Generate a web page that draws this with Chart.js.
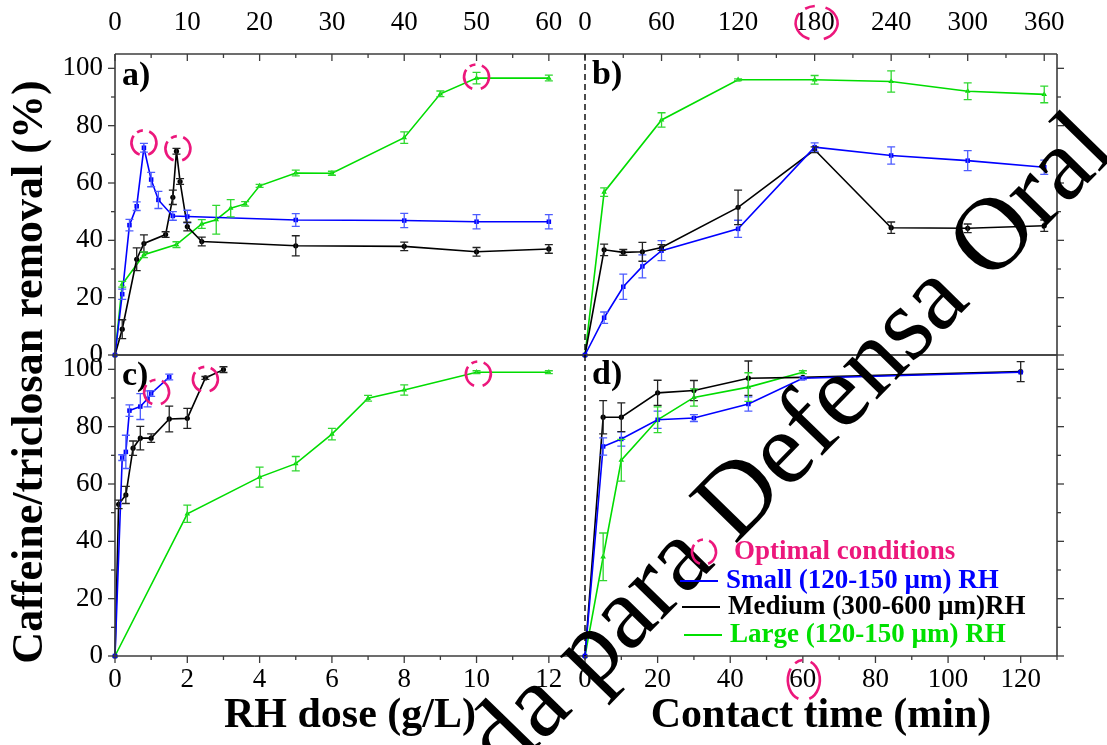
<!DOCTYPE html>
<html>
<head>
<meta charset="utf-8">
<script src="https://cdn.jsdelivr.net/npm/chart.js@4.4.1/dist/chart.umd.min.js"></script>
<style>
  html, body { margin: 0; padding: 0; background: #fff; }
  #wrap { position: relative; width: 1107px; height: 745px; overflow: hidden; }
  #wrap canvas { position: absolute; left: 0; top: 0; }
</style>
</head>
<body>
<div id="wrap">
  <canvas id="panelA" width="1107" height="745"></canvas>
  <canvas id="panelB" width="1107" height="745"></canvas>
  <canvas id="panelC" width="1107" height="745"></canvas>
  <canvas id="panelD" width="1107" height="745"></canvas>
</div>
<script>
// ---- tick labels ----
const yTickLabels = [0, 20, 40, 60, 80, 100];
const doseTopTicks = [0, 10, 20, 30, 40, 50, 60];
const doseTicks = [0, 2, 4, 6, 8, 10, 12];
const timeTopTicks = [0, 60, 120, 180, 240, 300, 360];
const timeTicks = [0, 20, 40, 60, 80, 100, 120];

// ---- a) caffeine vs RH dose (top scale) ----
const aSmallX = [0, 1, 2, 3, 4, 5, 6, 8, 10, 25, 40, 50, 60];
const aSmallY = [0, 21.2, 45.3, 51.9, 72.3, 61.2, 54.1, 48.5, 48.3, 47.1, 46.9, 46.5, 46.5];
const aSmallErr = [0, 1.8, 2, 1.5, 1.5, 2.5, 3, 1.5, 2.2, 2.2, 2.5, 2.5, 2.5];
const aMediumX = [0, 1, 3, 4, 7, 8, 8.5, 9, 10, 12, 25, 40, 50, 60];
const aMediumY = [0, 9, 33.4, 38.9, 42, 55, 71.1, 60.5, 44.8, 39.6, 38.1, 37.9, 36, 37];
const aMediumErr = [0, 3.3, 4, 3, 1, 2.5, 1, 1, 1.5, 1.5, 3.5, 1.5, 1.5, 1.5];
const aLargeX = [0, 1, 4, 8.5, 12, 14, 16, 18, 20, 25, 30, 40, 45, 50, 60];
const aLargeY = [0, 24.7, 35, 38.5, 45.7, 47.2, 51.2, 52.7, 59, 63.5, 63.4, 75.8, 91.1, 96.6, 96.6];
const aLargeErr = [0, 1, 1, 1, 1.5, 5, 3, 0.8, 0.5, 1, 0.7, 2, 1, 2, 1];
const aOptX = [4, 8.7, 50];
const aOptY = [74, 72, 97];

// ---- b) caffeine vs contact time (top scale) ----
const bSmallX = [0, 15, 30, 45, 60, 120, 180, 240, 300, 360];
const bSmallY = [0, 13, 23.8, 30.9, 36.4, 44, 72.5, 69.6, 67.8, 65.5];
const bSmallErr = [0, 2, 4.4, 4, 3.5, 3, 1.5, 3, 3.5, 2.5];
const bMediumX = [0, 15, 30, 45, 60, 120, 180, 240, 300, 360];
const bMediumY = [0, 36.7, 35.8, 36, 37.5, 51.5, 71.6, 44.4, 44.2, 45.1];
const bMediumErr = [0, 2, 1, 3.3, 1, 6, 1, 2, 1.5, 2];
const bLargeX = [0, 15, 60, 120, 180, 240, 300, 360];
const bLargeY = [0, 56.8, 82, 96, 96, 95.4, 92, 90.9];
const bLargeErr = [0, 1.5, 2.5, 0.3, 1.5, 3.7, 2.9, 2.9];

// ---- c) triclosan vs RH dose (g/L) ----
const cSmallX = [0, 0.2, 0.3, 0.4, 0.7, 0.9, 1.0, 1.5];
const cSmallY = [0, 69.2, 71.2, 85.6, 87, 89.7, 91.6, 97.3];
const cSmallErr = [0, 1, 5.8, 2, 4.5, 2.8, 1, 1];
const cMediumX = [0, 0.1, 0.3, 0.5, 0.7, 1.0, 1.5, 2.0, 2.5, 3.0];
const cMediumY = [0, 52.9, 56.2, 72.5, 76, 76, 82.7, 82.9, 97, 99.9];
const cMediumErr = [0, 1.5, 3, 2.5, 4.1, 1.5, 4.5, 3.5, 0.5, 1];
const cLargeX = [0, 2, 4, 5, 6, 7, 8, 10, 12];
const cLargeY = [0, 49.6, 62.4, 67.1, 77.4, 89.9, 92.8, 99, 99];
const cLargeErr = [0, 3, 3.5, 2.5, 2, 1, 1.8, 0.5, 0.5];
const cOptX = [1.15, 2.5, 10.05];
const cOptY = [92, 96.5, 98.4];

// ---- d) triclosan vs contact time (min) ----
const dSmallX = [0, 5, 10, 20, 30, 45, 60, 120];
const dSmallY = [0, 73.1, 75.7, 82.4, 83, 87.9, 96.9, 99];
const dSmallErr = [0, 3, 2.5, 3, 1.2, 2.5, 0.5, 0];
const dMediumX = [0, 5, 10, 20, 30, 45, 60, 120];
const dMediumY = [0, 83.3, 83.3, 91.8, 92.6, 96.9, 97.2, 99.2];
const dMediumErr = [0, 5.8, 5, 4.4, 3.5, 6, 0, 3.5];
const dLargeX = [0, 5, 10, 20, 30, 45, 60];
const dLargeY = [0, 34.6, 68.3, 82.4, 90.2, 93.8, 99];
const dLargeErr = [0, 8.3, 7.3, 4.5, 3, 5, 0.5];

const serif = "'Liberation Serif', 'Times New Roman', serif";
const blue = '#0000ff', black = '#000000', green = '#00dc00', pink = '#ec177c';
const frameColor = '#3c3c3c';

function series(label, xs, ys, errs, color, errColor, style) {
  return {
    label,
    data: xs.map((x, i) => ({ x, y: ys[i] })),
    errors: errs,
    errorColor: errColor,
    borderColor: color,
    backgroundColor: color,
    borderWidth: 1.6,
    pointStyle: style,
    pointRadius: style === 'circle' ? 2.6 : 3.2,
    pointBorderWidth: 0,
    tension: 0,
    clip: 12
  };
}

// vertical error bars with caps
const errorBars = {
  id: 'errorBars',
  afterDatasetsDraw(chart) {
    const { ctx, scales: { x, y } } = chart;
    ctx.save();
    ctx.lineWidth = 1.3;
    chart.data.datasets.forEach(ds => {
      ctx.strokeStyle = ds.errorColor;
      ds.data.forEach((p, i) => {
        const e = ds.errors[i];
        if (!e) return;
        const px = x.getPixelForValue(p.x);
        const y1 = y.getPixelForValue(p.y - e);
        const y2 = y.getPixelForValue(p.y + e);
        ctx.beginPath();
        ctx.moveTo(px, y1); ctx.lineTo(px, y2);
        ctx.moveTo(px - 4, y1); ctx.lineTo(px + 4, y1);
        ctx.moveTo(px - 4, y2); ctx.lineTo(px + 4, y2);
        ctx.stroke();
      });
    });
    ctx.restore();
  }
};

function line(ctx, x1, y1, x2, y2) {
  ctx.beginPath(); ctx.moveTo(x1, y1); ctx.lineTo(x2, y2); ctx.stroke();
}

// major/minor tick marks along a scale
function tickMarks(ctx, scale, max, step, major, fixed, dir, horiz) {
  ctx.save();
  ctx.strokeStyle = frameColor;
  ctx.lineWidth = 1.3;
  for (let v = 0; v <= max + 1e-9; v += step) {
    const p = scale.getPixelForValue(v);
    const r = v / major;
    const len = Math.abs(r - Math.round(r)) < 1e-6 ? 7 : 4;
    if (horiz) line(ctx, p, fixed, p, fixed + dir * len);
    else line(ctx, fixed, p, fixed + dir * len, p);
  }
  ctx.restore();
}

function dashedDivider(ctx, x, top, bottom) {
  ctx.save();
  ctx.strokeStyle = '#000';
  ctx.lineWidth = 1.4;
  ctx.setLineDash([6, 4]);
  line(ctx, x, top, x, bottom);
  ctx.restore();
}

// pink "( )" marker for the optimal conditions
function optimalRing(ctx, cx, cy, rx, ry) {
  const d = Math.PI / 180;
  ctx.save();
  ctx.strokeStyle = pink;
  ctx.lineWidth = 2.6;
  [[-65, 70], [110, 215], [237, 265]].forEach(([s, e]) => {
    ctx.beginPath();
    ctx.ellipse(cx, cy, rx, ry, 0, s * d, e * d);
    ctx.stroke();
  });
  ctx.restore();
}

function panelLabel(ctx, text, x, y) {
  ctx.save();
  ctx.font = 'bold 34px ' + serif;
  ctx.fillStyle = '#000';
  ctx.textBaseline = 'alphabetic';
  ctx.fillText(text, x, y);
  ctx.restore();
}

function frameBox(ctx, a, sides) {
  ctx.save();
  ctx.strokeStyle = frameColor;
  ctx.lineWidth = 1.6;
  if (sides.includes('t')) line(ctx, a.left, a.top, a.right, a.top);
  if (sides.includes('b')) line(ctx, a.left, a.bottom, a.right, a.bottom);
  if (sides.includes('l')) line(ctx, a.left, a.top, a.left, a.bottom);
  if (sides.includes('r')) line(ctx, a.right, a.top, a.right, a.bottom);
  ctx.restore();
}

const tickFont = { family: serif, size: 27 };

function xScale(position, max, labels, height, padding, title) {
  return {
    type: 'linear', position, min: 0, max,
    afterBuildTicks: s => { s.ticks = labels.map(v => ({ value: v })); },
    afterFit: s => { s.height = height; },
    grid: { display: false, drawTicks: false },
    border: { display: false },
    ticks: { font: tickFont, color: '#000', padding, maxRotation: 0, minRotation: 0, autoSkip: false },
    title: title ? { display: true, text: title, color: '#000',
      font: { family: serif, size: 42, weight: 'bold' }, padding: { top: 0, bottom: 4 } } : { display: false }
  };
}

function yScale(shown) {
  return {
    min: 0, max: 105, display: shown,
    afterBuildTicks: s => { s.ticks = yTickLabels.map(v => ({ value: v })); },
    afterFit: s => { if (shown) s.width = 115; },
    grid: { display: false, drawTicks: false },
    border: { display: false },
    ticks: { font: tickFont, color: '#000', padding: 12 }
  };
}

function makeChart(id, datasets, scales, padding, decor) {
  return new Chart(document.getElementById(id), {
    type: 'line',
    data: { datasets },
    options: {
      responsive: false, animation: false, devicePixelRatio: 1,
      layout: { padding, autoPadding: false },
      plugins: { legend: { display: false }, tooltip: { enabled: false } },
      scales
    },
    plugins: [errorBars, { id: 'decor', afterDraw: decor }]
  });
}

// a) top left
makeChart('panelA', [
  series('Small', aSmallX, aSmallY, aSmallErr, blue, '#4d5cff', 'rect'),
  series('Medium', aMediumX, aMediumY, aMediumErr, black, '#222', 'circle'),
  series('Large', aLargeX, aLargeY, aLargeErr, green, '#30d830', 'triangle')
], {
  x: xScale('top', 65, doseTopTicks, 54, 15),
  y: yScale(true)
}, { left: 0, top: 0, right: 522, bottom: 390 }, chart => {
  const { ctx, chartArea: a, scales: { x, y } } = chart;
  frameBox(ctx, a, 'tbl');
  tickMarks(ctx, y, 100, 10, 20, a.left, -1, false);
  tickMarks(ctx, x, 65, 5, 10, a.top, 1, true);
  panelLabel(ctx, 'a)', a.left + 7, a.top + 31);
  aOptX.forEach((v, i) => optimalRing(ctx, x.getPixelForValue(v), y.getPixelForValue(aOptY[i]), 12.5, 12.5));
});

// b) top right
makeChart('panelB', [
  series('Small', bSmallX, bSmallY, bSmallErr, blue, '#4d5cff', 'rect'),
  series('Medium', bMediumX, bMediumY, bMediumErr, black, '#222', 'circle'),
  series('Large', bLargeX, bLargeY, bLargeErr, green, '#30d830', 'triangle')
], {
  x: xScale('top', 370, timeTopTicks, 54, 15),
  y: yScale(false)
}, { left: 585, top: 0, right: 50, bottom: 390 }, chart => {
  const { ctx, chartArea: a, scales: { x, y } } = chart;
  frameBox(ctx, a, 'tbr');
  dashedDivider(ctx, a.left, a.top, a.bottom);
  tickMarks(ctx, x, 370, 30, 60, a.top, 1, true);
  tickMarks(ctx, y, 100, 10, 20, a.right, 1, false);
  panelLabel(ctx, 'b)', a.left + 7, a.top + 30);
  optimalRing(ctx, x.getPixelForValue(180) + 2, 23, 21, 17);
});

// c) bottom left
makeChart('panelC', [
  series('Small', cSmallX, cSmallY, cSmallErr, blue, '#4d5cff', 'rect'),
  series('Medium', cMediumX, cMediumY, cMediumErr, black, '#222', 'circle'),
  series('Large', cLargeX, cLargeY, cLargeErr, green, '#30d830', 'triangle')
], {
  x: xScale('bottom', 13, doseTicks, 89, 8, 'RH dose (g/L)'),
  y: yScale(true)
}, { left: 0, top: 355, right: 522, bottom: 0 }, chart => {
  const { ctx, chartArea: a, scales: { x, y } } = chart;
  frameBox(ctx, a, 'tbl');
  tickMarks(ctx, y, 100, 10, 20, a.left, -1, false);
  tickMarks(ctx, x, 13, 1, 2, a.bottom, 1, true);
  panelLabel(ctx, 'c)', a.left + 7, a.top + 30);
  cOptX.forEach((v, i) => optimalRing(ctx, x.getPixelForValue(v), y.getPixelForValue(cOptY[i]), 12.5, 12.5));
  // shared y title
  ctx.save();
  ctx.translate(42, 372);
  ctx.rotate(-Math.PI / 2);
  ctx.font = 'bold 44px ' + serif;
  ctx.fillStyle = '#000';
  ctx.textAlign = 'center';
  ctx.textBaseline = 'alphabetic';
  ctx.fillText('Caffeine/triclosan removal (%)', 0, 0);
  ctx.restore();
});

// d) bottom right, legend and watermark
makeChart('panelD', [
  series('Small', dSmallX, dSmallY, dSmallErr, blue, '#4d5cff', 'rect'),
  series('Medium', dMediumX, dMediumY, dMediumErr, black, '#222', 'circle'),
  series('Large', dLargeX, dLargeY, dLargeErr, green, '#30d830', 'triangle')
], {
  x: xScale('bottom', 130, timeTicks, 89, 8, 'Contact time (min)'),
  y: yScale(false)
}, { left: 585, top: 355, right: 50, bottom: 0 }, chart => {
  const { ctx, chartArea: a, scales: { x, y } } = chart;
  frameBox(ctx, a, 'tbr');
  dashedDivider(ctx, a.left, a.top, a.bottom);
  tickMarks(ctx, x, 130, 10, 20, a.bottom, 1, true);
  tickMarks(ctx, y, 100, 10, 20, a.right, 1, false);
  panelLabel(ctx, 'd)', a.left + 7, a.top + 29);
  optimalRing(ctx, x.getPixelForValue(60) + 1, 680, 16, 20);

  // watermark
  ctx.save();
  ctx.translate(812, 466);
  ctx.rotate(-45.7 * Math.PI / 180);
  ctx.font = '103.5px ' + serif;
  ctx.fillStyle = '#000';
  ctx.textAlign = 'center';
  ctx.textBaseline = 'alphabetic';
  ctx.fillText('da para Defensa Oral', 0, 0);
  ctx.restore();

  // legend
  ctx.save();
  ctx.font = 'bold 27px ' + serif;
  ctx.textBaseline = 'middle';
  optimalRing(ctx, 704, 552, 12, 12.5);
  ctx.fillStyle = pink;
  ctx.fillText('Optimal conditions', 734, 552);
  const rows = [
    ['Small (120-150 µm) RH', blue, 680, 581],
    ['Medium (300-600 µm)RH', black, 682, 607],
    ['Large (120-150 µm) RH', '#00e000', 684, 635]
  ];
  ctx.lineWidth = 2.2;
  rows.forEach(([t, c, lx, ly]) => {
    ctx.strokeStyle = c;
    line(ctx, lx, ly, lx + 38, ly);
    ctx.fillStyle = c;
    ctx.fillText(t, lx + 46, ly);
  });
  ctx.restore();
});
</script>
</body>
</html>
